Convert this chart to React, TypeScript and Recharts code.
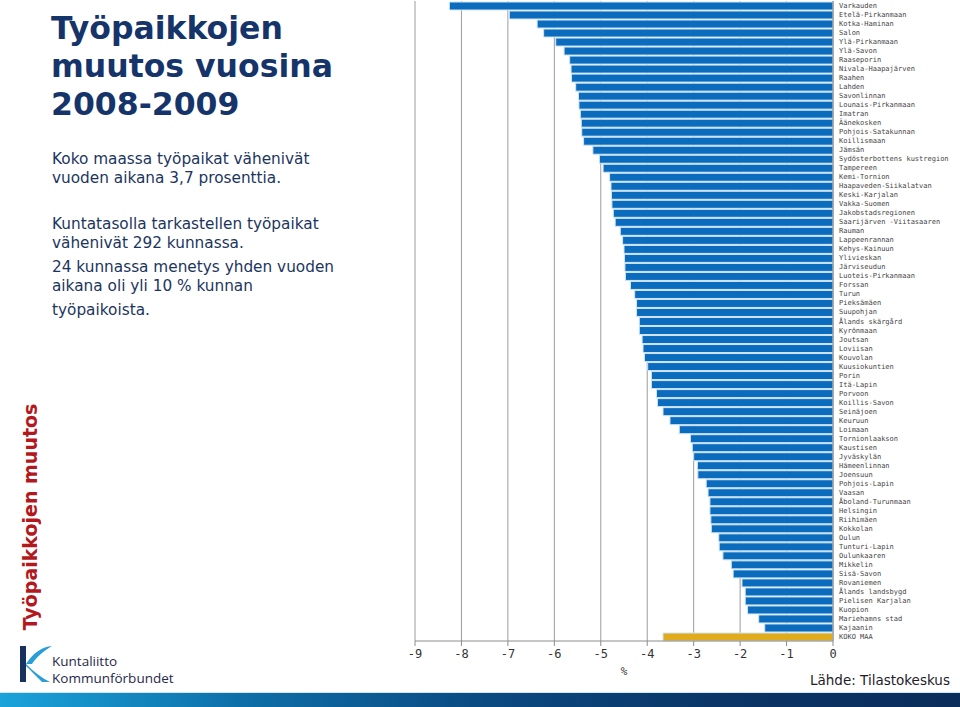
import React from 'react';
import { BarChart, Bar, XAxis, YAxis, CartesianGrid, Cell } from 'recharts';

// Seutukunnat, järjestyksessä ylhäältä alas
const regions = [
    'Varkauden', 'Etelä-Pirkanmaan', 'Kotka-Haminan', 'Salon', 'Ylä-Pirkanmaan', 'Ylä-Savon',
    'Raaseporin', 'Nivala-Haapajärven', 'Raahen', 'Lahden', 'Savonlinnan', 'Lounais-Pirkanmaan',
    'Imatran', 'Äänekosken', 'Pohjois-Satakunnan', 'Koillismaan', 'Jämsän',
    'Sydösterbottens kustregion', 'Tampereen', 'Kemi-Tornion', 'Haapaveden-Siikalatvan',
    'Keski-Karjalan', 'Vakka-Suomen', 'Jakobstadsregionen', 'Saarijärven -Viitasaaren', 'Rauman',
    'Lappeenrannan', 'Kehys-Kainuun', 'Ylivieskan', 'Järviseudun', 'Luoteis-Pirkanmaan', 'Forssan',
    'Turun', 'Pieksämäen', 'Suupohjan', 'Ålands skärgård', 'Kyrönmaan', 'Joutsan', 'Loviisan',
    'Kouvolan', 'Kuusiokuntien', 'Porin', 'Itä-Lapin', 'Porvoon', 'Koillis-Savon', 'Seinäjoen',
    'Keuruun', 'Loimaan', 'Tornionlaakson', 'Kaustisen', 'Jyväskylän', 'Hämeenlinnan', 'Joensuun',
    'Pohjois-Lapin', 'Vaasan', 'Åboland-Turunmaan', 'Helsingin', 'Riihimäen', 'Kokkolan', 'Oulun',
    'Tunturi-Lapin', 'Oulunkaaren', 'Mikkelin', 'Sisä-Savon', 'Rovaniemen', 'Ålands landsbygd',
    'Pielisen Karjalan', 'Kuopion', 'Mariehamns stad', 'Kajaanin', 'KOKO MAA',
];

// Työpaikkojen muutos %, 2008-2009
const changes = [
    -8.26, -6.97, -6.37, -6.23, -5.97, -5.79,
    -5.67, -5.64, -5.63, -5.54, -5.48, -5.47,
    -5.44, -5.42, -5.41, -5.37, -5.17,
    -5.03, -4.95, -4.81, -4.78,
    -4.77, -4.76, -4.73, -4.69, -4.58,
    -4.53, -4.50, -4.49, -4.48, -4.47, -4.36,
    -4.27, -4.23, -4.23, -4.17, -4.17, -4.11, -4.09,
    -4.06, -3.99, -3.91, -3.91, -3.80, -3.78, -3.66,
    -3.51, -3.31, -3.07, -3.03, -3.00, -2.92, -2.91,
    -2.73, -2.69, -2.65, -2.65, -2.63, -2.62, -2.46,
    -2.45, -2.37, -2.19, -2.15, -1.96, -1.89,
    -1.89, -1.84, -1.60, -1.47, -3.66,
];

const xTicks = [-9, -8, -7, -6, -5, -4, -3, -2, -1, 0];

const data = regions.map((name, i) => ({ name, value: changes[i] }));

const navy = '#15346a';
const mono = '"DejaVu Sans Mono", monospace';

// oma tick, ettei pitkät nimet rivity
const RegionTick = (props: any) => {
    const { x, y, payload } = props;
    return (
        <text x={x} y={y} dy={2.5} fontSize={7} fill="#444" fontFamily={mono} textAnchor="start">
            {payload.value}
        </text>
    );
};

const Logo = () => (
    <svg width={40} height={44} style={{ position: 'absolute', left: 14, top: 642 }}>
        <rect x={6} y={4} width={6} height={36} fill="#17325e" />
        <path d="M12 22 C 20 10, 28 5, 38 4 C 28 10, 22 16, 18 22 Z" fill="#2a9fd6" />
        <path d="M12 22 C 20 30, 28 36, 36 40 L 28 40 C 22 34, 16 28, 12 24 Z" fill="#2a9fd6" />
    </svg>
);

const App: React.FC = () => {
    return (
        <div
            style={{
                position: 'absolute',
                left: 0,
                top: 0,
                width: 960,
                height: 707,
                background: '#fff',
                overflow: 'hidden',
                fontFamily: '"DejaVu Sans", Verdana, sans-serif',
            }}
        >
            <div
                style={{
                    position: 'absolute',
                    left: 51,
                    top: 9,
                    fontSize: 31.5,
                    fontWeight: 'bold',
                    lineHeight: '38px',
                    color: navy,
                }}
            >
                Työpaikkojen<br />muutos vuosina<br />2008-2009
            </div>
            <div
                style={{
                    position: 'absolute',
                    left: 52,
                    top: 150,
                    width: 340,
                    fontSize: 15.3,
                    lineHeight: '19px',
                    color: '#1b3560',
                }}
            >
                <div>Koko maassa työpaikat vähenivät<br />vuoden aikana 3,7 prosenttia.</div>
                <div style={{ marginTop: 27 }}>
                    Kuntatasolla tarkastellen työpaikat<br />vähenivät 292 kunnassa.
                </div>
                <div style={{ marginTop: 5 }}>
                    24 kunnassa menetys yhden vuoden<br />aikana oli yli 10 % kunnan
                </div>
                <div style={{ marginTop: 5 }}>työpaikoista.</div>
            </div>

            <div
                style={{
                    position: 'absolute',
                    left: 30,
                    top: 517,
                    transform: 'translate(-50%, -50%) rotate(-90deg)',
                    whiteSpace: 'nowrap',
                    fontSize: 19,
                    fontWeight: 'bold',
                    color: '#b3191c',
                }}
            >
                Työpaikkojen muutos
            </div>

            <div style={{ position: 'absolute', left: 0, top: 0 }}>
                <BarChart
                    width={960}
                    height={680}
                    data={data}
                    layout="vertical"
                    margin={{ top: 1, right: 0, left: 415, bottom: 0 }}
                    barCategoryGap={1}
                >
                    <CartesianGrid horizontal={false} stroke="#9c9c9c" strokeWidth={1} />
                    <XAxis
                        type="number"
                        domain={[-9, 0]}
                        ticks={xTicks}
                        allowDataOverflow
                        height={39}
                        tickSize={5}
                        tickMargin={3}
                        stroke="#8c8c8c"
                        tick={{ fontSize: 12, fill: '#333', fontFamily: mono }}
                        label={{
                            value: '%',
                            position: 'insideBottom',
                            offset: 5,
                            fontSize: 11,
                            fill: '#333',
                            fontFamily: mono,
                        }}
                    />
                    <YAxis
                        type="category"
                        dataKey="name"
                        orientation="right"
                        width={127}
                        interval={0}
                        tickSize={0}
                        tickMargin={6}
                        stroke="#8c8c8c"
                        tick={<RegionTick />}
                    />
                    <Bar dataKey="value" barSize={8} stroke="#cfe5f6" strokeWidth={1} isAnimationActive={false}>
                        {data.map((d) => (
                            <Cell key={d.name} fill={d.name === 'KOKO MAA' ? '#e1ab1e' : '#0b6cbe'} />
                        ))}
                    </Bar>
                </BarChart>
            </div>

            <div
                style={{
                    position: 'absolute',
                    left: 810,
                    top: 672,
                    fontSize: 13.5,
                    color: '#1c1c2a',
                    whiteSpace: 'nowrap',
                }}
            >
                Lähde: Tilastokeskus
            </div>

            <Logo />
            <div
                style={{
                    position: 'absolute',
                    left: 52,
                    top: 653,
                    fontSize: 13.5,
                    lineHeight: '16.5px',
                    color: '#1f2a4a',
                    fontFamily: '"Open Sans", "DejaVu Sans", sans-serif',
                }}
            >
                <div>Kuntaliitto</div>
                <div>Kommunförbundet</div>
            </div>

            <div
                style={{
                    position: 'absolute',
                    left: 0,
                    top: 692,
                    width: 960,
                    height: 15,
                    background: 'linear-gradient(90deg, #1ba3da 0%, #0e6fa8 25%, #0b4a82 50%, #0a3566 75%, #0b2d5b 100%)',
                    borderTop: '1px solid #cfe6f4',
                }}
            />
        </div>
    );
};

export default App;
